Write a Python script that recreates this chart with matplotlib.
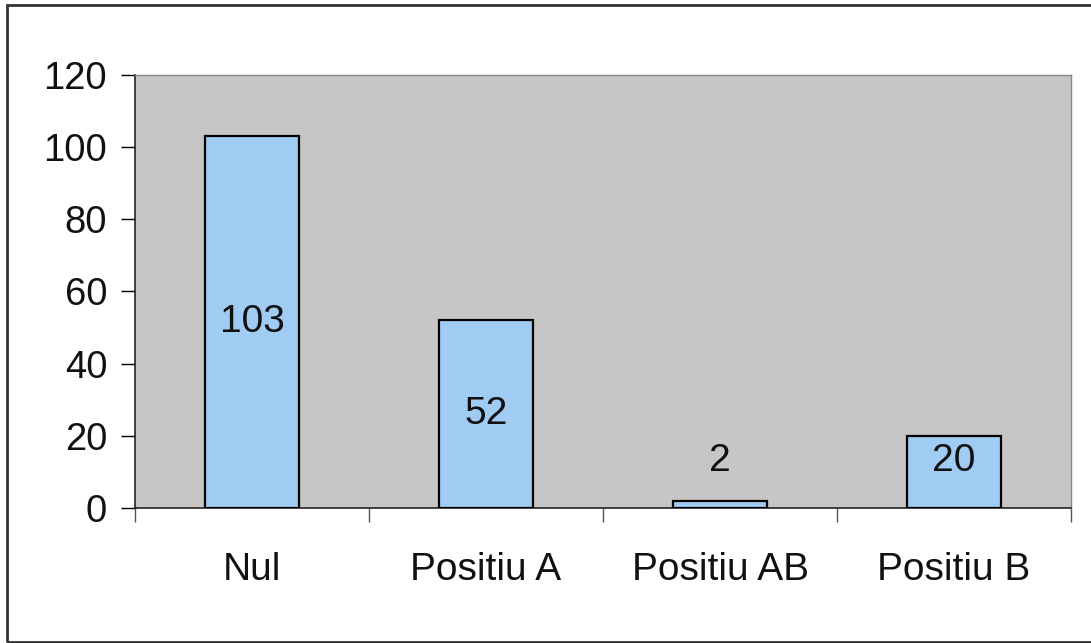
import matplotlib.pyplot as plt
import numpy as np
from matplotlib.patches import Rectangle

categories = ["Nul", "Positiu A", "Positiu AB", "Positiu B"]
counts = [103, 52, 2, 20]
yticks = [0, 20, 40, 60, 80, 100, 120]

plt.rcParams['font.family'] = ['Liberation Sans', 'DejaVu Sans']

fig = plt.figure(figsize=(10.91, 6.43), dpi=100)
ax = fig.add_axes([0.1237, 0.2100, 0.8580, 0.6734])
ax.set_facecolor("#c6c6c6")

x = np.arange(len(categories))
ax.bar(x, counts, width=0.4, color="#a0cbf3", edgecolor="black", linewidth=1.6, zorder=3)

# value labels: middle of the bar, pushed up when the bar is too short
for xi, v in zip(x, counts):
    ax.text(xi, max(v / 2, 13), str(v), ha="center", va="center", fontsize=28,
            color="#111111", zorder=4)

ax.set_xlim(-0.5, len(categories) - 0.5)
ax.set_ylim(0, 120)
ax.set_yticks(yticks)
ax.tick_params(axis="y", labelsize=27.5, length=10, width=1, pad=10, direction="out",
               labelcolor="#111111")

# category labels centred, tick marks on the boundaries
ax.set_xticks(x)
ax.set_xticklabels(categories)
ax.set_xticks(np.arange(-0.5, len(categories)), minor=True)
ax.tick_params(axis="x", which="major", length=0, labelsize=28, pad=32, labelcolor="#111111")
ax.tick_params(axis="x", which="minor", length=10, width=1, color="#555555")

for side in ("top", "right"):
    ax.spines[side].set_color("#888888")
    ax.spines[side].set_linewidth(1)
for side in ("left", "bottom"):
    ax.spines[side].set_color("#222222")
    ax.spines[side].set_linewidth(1.2)

# outer chart frame
fig.patches.append(Rectangle((0.0064, 0.0016), 1.2, 0.990, transform=fig.transFigure,
                             fill=False, edgecolor="#333333", linewidth=2.0))

fig.savefig("out.png", dpi=100)
